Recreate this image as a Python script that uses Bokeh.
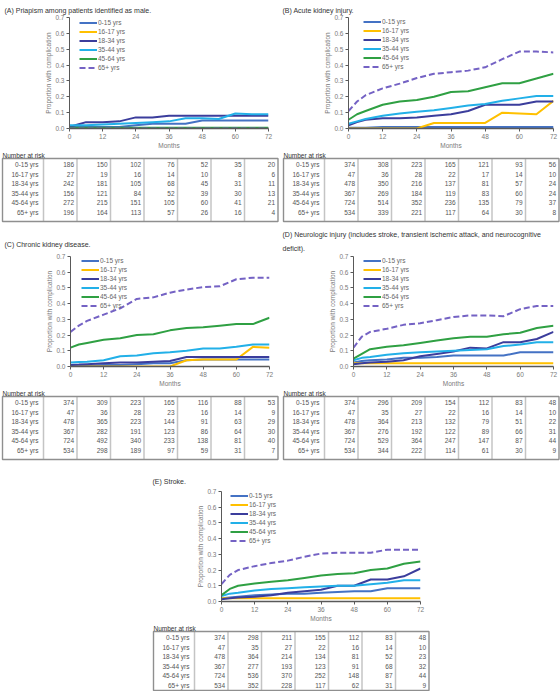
from bokeh.plotting import figure
from bokeh.models import Range1d, FixedTicker, NumeralTickFormatter, Title, Spacer
from bokeh.layouts import row, column
from bokeh.embed import file_html
from bokeh.resources import INLINE
from bokeh.core.properties import value

# ---------------- data ----------------
months = [0, 3, 6, 12, 18, 24, 30, 36, 42, 48, 54, 60, 66, 72]
x_ticks = [0, 12, 24, 36, 48, 60, 72]
y_ticks = [0.0, 0.1, 0.2, 0.3, 0.4, 0.5, 0.6, 0.7]
groups = ["0-15 yrs", "16-17 yrs", "18-34 yrs", "35-44 yrs", "45-64 yrs", "65+ yrs"]
risk_months = [0, 12, 24, 36, 48, 60, 72]

# (A) Priapism
a_0_15 = [0.01, 0.01, 0.01, 0.01, 0.01, 0.02, 0.03, 0.03, 0.03, 0.05, 0.05, 0.05, 0.05, 0.05]
a_16_17 = [0, 0, 0, 0, 0, 0, 0, 0, 0, 0, 0, 0, 0, 0]
a_18_34 = [0.01, 0.025, 0.04, 0.04, 0.045, 0.07, 0.07, 0.08, 0.08, 0.08, 0.08, 0.08, 0.08, 0.08]
a_35_44 = [0.02, 0.02, 0.02, 0.025, 0.03, 0.035, 0.04, 0.045, 0.065, 0.065, 0.06, 0.095, 0.09, 0.09]
a_45_64 = [0.005, 0.005, 0.005, 0.005, 0.005, 0.005, 0.005, 0.005, 0.005, 0.005, 0.005, 0.005, 0.005, 0.005]
a_65 = [0, 0, 0, 0, 0, 0, 0, 0, 0, 0, 0, 0, 0, 0]

# (B) Acute kidney injury
b_0_15 = [0.005, 0.005, 0.005, 0.01, 0.01, 0.01, 0.01, 0.01, 0.01, 0.01, 0.01, 0.01, 0.01, 0.01]
b_16_17 = [0, 0, 0, 0, 0, 0, 0.035, 0.035, 0.035, 0.035, 0.10, 0.095, 0.09, 0.175]
b_18_34 = [0.02, 0.04, 0.055, 0.065, 0.065, 0.07, 0.08, 0.09, 0.11, 0.15, 0.15, 0.15, 0.17, 0.17]
b_35_44 = [0.03, 0.045, 0.06, 0.08, 0.095, 0.105, 0.115, 0.13, 0.145, 0.155, 0.175, 0.19, 0.205, 0.205]
b_45_64 = [0.055, 0.09, 0.11, 0.15, 0.17, 0.18, 0.2, 0.23, 0.235, 0.26, 0.285, 0.285, 0.315, 0.345]
b_65 = [0.11, 0.17, 0.21, 0.253, 0.283, 0.318, 0.345, 0.355, 0.365, 0.386, 0.437, 0.485, 0.485, 0.48]

# (C) Chronic kidney disease
c_0_15 = [0.005, 0.005, 0.005, 0.01, 0.01, 0.015, 0.02, 0.02, 0.04, 0.045, 0.045, 0.045, 0.045, 0.045]
c_16_17 = [0, 0, 0, 0, 0, 0, 0, 0, 0.04, 0.045, 0.045, 0.045, 0.125, 0.12]
c_18_34 = [0.01, 0.012, 0.015, 0.02, 0.025, 0.025, 0.03, 0.035, 0.06, 0.06, 0.06, 0.06, 0.06, 0.06]
c_35_44 = [0.025, 0.028, 0.03, 0.04, 0.065, 0.07, 0.085, 0.09, 0.1, 0.115, 0.115, 0.125, 0.14, 0.14]
c_45_64 = [0.12, 0.14, 0.15, 0.17, 0.18, 0.2, 0.205, 0.23, 0.245, 0.25, 0.26, 0.27, 0.27, 0.31]
c_65 = [0.22, 0.26, 0.29, 0.33, 0.37, 0.43, 0.44, 0.47, 0.49, 0.505, 0.51, 0.555, 0.565, 0.565]

# (D) Neurologic injury
d_0_15 = [0.025, 0.035, 0.04, 0.045, 0.055, 0.055, 0.06, 0.07, 0.07, 0.07, 0.07, 0.09, 0.09, 0.09]
d_16_17 = [0.02, 0.02, 0.02, 0.02, 0.02, 0.02, 0.02, 0.02, 0.02, 0.02, 0.02, 0.02, 0.02, 0.02]
d_18_34 = [0.015, 0.02, 0.025, 0.03, 0.04, 0.065, 0.08, 0.095, 0.12, 0.115, 0.155, 0.155, 0.175, 0.22]
d_35_44 = [0.04, 0.055, 0.06, 0.075, 0.085, 0.09, 0.095, 0.1, 0.105, 0.11, 0.13, 0.14, 0.155, 0.155]
d_45_64 = [0.05, 0.08, 0.11, 0.125, 0.135, 0.15, 0.165, 0.18, 0.19, 0.19, 0.205, 0.215, 0.245, 0.26]
d_65 = [0.12, 0.19, 0.22, 0.24, 0.265, 0.275, 0.295, 0.315, 0.325, 0.325, 0.32, 0.365, 0.385, 0.385]

# (E) Stroke
e_0_15 = [0.02, 0.025, 0.03, 0.04, 0.045, 0.05, 0.05, 0.055, 0.06, 0.065, 0.065, 0.085, 0.085, 0.085]
e_16_17 = [0.02, 0.02, 0.02, 0.02, 0.02, 0.02, 0.02, 0.02, 0.02, 0.02, 0.02, 0.02, 0.02, 0.02]
e_18_34 = [0.015, 0.02, 0.025, 0.03, 0.04, 0.055, 0.065, 0.075, 0.1, 0.1, 0.14, 0.14, 0.16, 0.21]
e_35_44 = [0.035, 0.05, 0.055, 0.07, 0.08, 0.085, 0.09, 0.095, 0.1, 0.1, 0.11, 0.12, 0.135, 0.135]
e_45_64 = [0.04, 0.08, 0.1, 0.115, 0.125, 0.135, 0.15, 0.165, 0.175, 0.18, 0.2, 0.21, 0.24, 0.255]
e_65 = [0.11, 0.17, 0.2, 0.225, 0.245, 0.26, 0.285, 0.305, 0.31, 0.31, 0.31, 0.33, 0.33, 0.33]

# Number at risk tables
a_risk_0_15 = [186, 150, 102, 76, 52, 35, 20]
a_risk_16_17 = [27, 19, 16, 14, 10, 8, 6]
a_risk_18_34 = [242, 181, 105, 68, 45, 31, 11]
a_risk_35_44 = [156, 121, 84, 52, 39, 30, 13]
a_risk_45_64 = [272, 215, 151, 105, 60, 41, 21]
a_risk_65 = [196, 164, 113, 57, 26, 16, 4]

b_risk_0_15 = [374, 308, 223, 165, 121, 93, 56]
b_risk_16_17 = [47, 36, 28, 22, 17, 14, 10]
b_risk_18_34 = [478, 350, 216, 137, 81, 57, 24]
b_risk_35_44 = [367, 269, 184, 119, 83, 60, 24]
b_risk_45_64 = [724, 514, 352, 236, 135, 79, 37]
b_risk_65 = [534, 339, 221, 117, 64, 30, 8]

c_risk_0_15 = [374, 309, 223, 165, 116, 88, 53]
c_risk_16_17 = [47, 36, 28, 23, 16, 14, 9]
c_risk_18_34 = [478, 365, 223, 144, 91, 63, 29]
c_risk_35_44 = [367, 282, 191, 123, 86, 64, 30]
c_risk_45_64 = [724, 492, 340, 233, 138, 81, 40]
c_risk_65 = [534, 298, 189, 97, 59, 31, 7]

d_risk_0_15 = [374, 296, 209, 154, 112, 83, 48]
d_risk_16_17 = [47, 35, 27, 22, 16, 14, 10]
d_risk_18_34 = [478, 364, 213, 132, 79, 51, 22]
d_risk_35_44 = [367, 276, 192, 122, 89, 66, 31]
d_risk_45_64 = [724, 529, 364, 247, 147, 87, 44]
d_risk_65 = [534, 344, 222, 114, 61, 30, 9]

e_risk_0_15 = [374, 298, 211, 155, 112, 83, 48]
e_risk_16_17 = [47, 35, 27, 22, 16, 14, 10]
e_risk_18_34 = [478, 364, 214, 134, 81, 52, 23]
e_risk_35_44 = [367, 277, 193, 123, 91, 68, 32]
e_risk_45_64 = [724, 536, 370, 252, 148, 87, 44]
e_risk_65 = [534, 352, 228, 117, 62, 31, 9]

# ---------------- style ----------------
FONT = "Liberation Sans"
colors = ["#4472C4", "#FFC000", "#3B3D9C", "#22B0E8", "#2FA043", "#7462C4"]
dashes = ["solid", "solid", "solid", "solid", "solid", "6 3"]
XMAX = x_ticks[-1]
YMAX = y_ticks[-1]
LEG_H = 56.4


def title_obj(text, offset, standoff):
    return Title(text=text, align="left", offset=offset, standoff=standoff,
                 text_font=FONT, text_font_size="7px",
                 text_font_style="normal", text_color="#333333")


def make_plot(series, title_lines, left, frame_w, top, frame_h, bottom,
              title_x, standoff, leg_dx, leg_dy):
    width = 280
    right = width - left - frame_w
    p = figure(width=width, height=top + frame_h + bottom,
               x_range=Range1d(0, XMAX), y_range=Range1d(0, YMAX),
               output_backend="svg", toolbar_location=None,
               min_border_left=left, min_border_right=right,
               min_border_top=top, min_border_bottom=bottom)
    p.outline_line_color = None
    p.grid.visible = False
    p.background_fill_color = "white"
    p.border_fill_color = "white"
    for vals, name, col, dash in zip(series, groups, colors, dashes):
        p.line(months, vals, line_color=col, line_width=2, line_dash=dash,
               legend_label=name)
    p.xaxis.ticker = FixedTicker(ticks=x_ticks)
    p.yaxis.ticker = FixedTicker(ticks=y_ticks)
    p.yaxis.formatter = NumeralTickFormatter(format="0.0")
    p.axis.minor_tick_line_color = None
    p.axis.major_tick_in = 0
    p.axis.major_tick_out = 3
    p.axis.axis_line_color = "#595959"
    p.axis.major_tick_line_color = "#595959"
    p.xaxis.axis_line_width = 1.4
    p.axis.major_label_text_font = FONT
    p.axis.major_label_text_font_size = "6.5px"
    p.axis.major_label_text_color = "#7a7a7a"
    p.axis.major_label_standoff = 2
    p.axis.axis_label_text_font = FONT
    p.axis.axis_label_text_font_size = "6.5px"
    p.axis.axis_label_text_color = "#7a7a7a"
    p.axis.axis_label_text_font_style = "normal"
    p.axis.axis_label_standoff = 0
    p.xaxis.axis_label = "Months"
    p.yaxis.axis_label = "Proportion with complication"

    lg = p.legend[0]
    top_off = max(leg_dy - 4.7, 0.3)
    lg.location = (leg_dx, frame_h - top_off - LEG_H)
    lg.background_fill_alpha = 0
    lg.border_line_alpha = 0
    lg.margin = 0
    lg.padding = 0
    lg.spacing = 0
    lg.glyph_width = 18
    lg.glyph_height = 9
    lg.label_height = 9
    lg.label_standoff = 1
    lg.label_text_font = FONT
    lg.label_text_font_size = "6.5px"
    lg.label_text_color = "#666666"

    off = title_x - left
    if len(title_lines) == 1:
        p.title = title_obj(title_lines[0], off, standoff)
    else:
        p.title = title_obj(title_lines[0], off, 1)
        p.add_layout(title_obj(title_lines[1], off, standoff), "above")
    return p


def make_table(rows, height, x0, box_top, box_h):
    ncol = len(risk_months)
    nrow = len(rows)
    lab_w = 41.0
    col_w = 33.5
    t = figure(width=280, height=height,
               x_range=Range1d(0, 280), y_range=Range1d(height, 0),
               output_backend="svg", toolbar_location=None,
               x_axis_location=None, y_axis_location=None,
               min_border_left=0, min_border_right=0,
               min_border_top=0, min_border_bottom=0)
    t.outline_line_color = None
    t.grid.visible = False
    t.background_fill_color = "white"
    t.border_fill_color = "white"
    seps = [x0 + lab_w + col_w * j for j in range(ncol)]
    right = x0 + lab_w + col_w * ncol
    t.segment(x0=seps, y0=[box_top] * ncol, x1=seps, y1=[box_top + box_h] * ncol,
              line_color="#c4c4c4", line_width=1.5)
    t.quad(left=[x0], right=[right], top=[box_top], bottom=[box_top + box_h],
           fill_color=None, line_color="#8f8f8f", line_width=1.4)
    ys = [box_top + 6.3 + 9.5 * r for r in range(nrow)]
    t.text(x=[x0 + lab_w - 5] * nrow, y=ys, text=groups, text_align="right",
           text_baseline="middle", text_font=value(FONT),
           text_font_size="6.5px", text_color="#555555")
    for j in range(ncol):
        t.text(x=[x0 + lab_w + col_w * (j + 1) - 3] * nrow, y=ys,
               text=[str(r[j]) for r in rows],
               text_align="right", text_baseline="middle",
               text_font=value(FONT), text_font_size="6.5px",
               text_color="#555555")
    t.text(x=[x0], y=[box_top - 3.5], text=["Number at risk"],
           text_align="left", text_baseline="middle", text_font=value(FONT),
           text_font_size="6.5px", text_color="#333333")
    return t


pA = make_plot([a_0_15, a_16_17, a_18_34, a_35_44, a_45_64, a_65],
               ["(A) Priapism among patients identified as male."],
               69, 199, 17, 114, 20, 4, 7, 10, 6)
tA = make_table([a_risk_0_15, a_risk_16_17, a_risk_18_34, a_risk_35_44,
                 a_risk_45_64, a_risk_65], 77, 2, 7, 63)

pB = make_plot([b_0_15, b_16_17, b_18_34, b_35_44, b_45_64, b_65],
               ["(B) Acute kidney injury."],
               68, 205, 17, 114, 20, 2, 7, 15, 5)
tB = make_table([b_risk_0_15, b_risk_16_17, b_risk_18_34, b_risk_35_44,
                 b_risk_45_64, b_risk_65], 77, 3, 7, 63)

pC = make_plot([c_0_15, c_16_17, c_18_34, c_35_44, c_45_64, c_65],
               ["(C) Chronic kidney disease."],
               70, 199, 28, 113, 20, 4, 17, 11, 4)
tC = make_table([c_risk_0_15, c_risk_16_17, c_risk_18_34, c_risk_35_44,
                 c_risk_45_64, c_risk_65], 79, 2, 7, 63)

pD = make_plot([d_0_15, d_16_17, d_18_34, d_35_44, d_45_64, d_65],
               ["(D) Neurologic injury (includes stroke, transient ischemic attack, and neurocognitive",
                "deficit)."],
               73, 200, 28, 113, 20, 2, 9, 10, 4)
tD = make_table([d_risk_0_15, d_risk_16_17, d_risk_18_34, d_risk_35_44,
                 d_risk_45_64, d_risk_65], 79, 3, 7, 63)

pE = make_plot([e_0_15, e_16_17, e_18_34, e_35_44, e_45_64, e_65],
               ["(E) Stroke."],
               71, 199, 23, 113, 20, 2, 13, 9, 5)
tE = make_table([e_risk_0_15, e_risk_16_17, e_risk_18_34, e_risk_35_44,
                 e_risk_45_64, e_risk_65], 67, 3, 7, 59)

layout = column(
    row(pA, pB),
    row(tA, tB),
    row(pC, pD),
    row(tC, tD),
    row(Spacer(width=150, height=156), pE),
    row(Spacer(width=150, height=67), tE),
)

open("out.html", "w").write(file_html(layout, INLINE))
